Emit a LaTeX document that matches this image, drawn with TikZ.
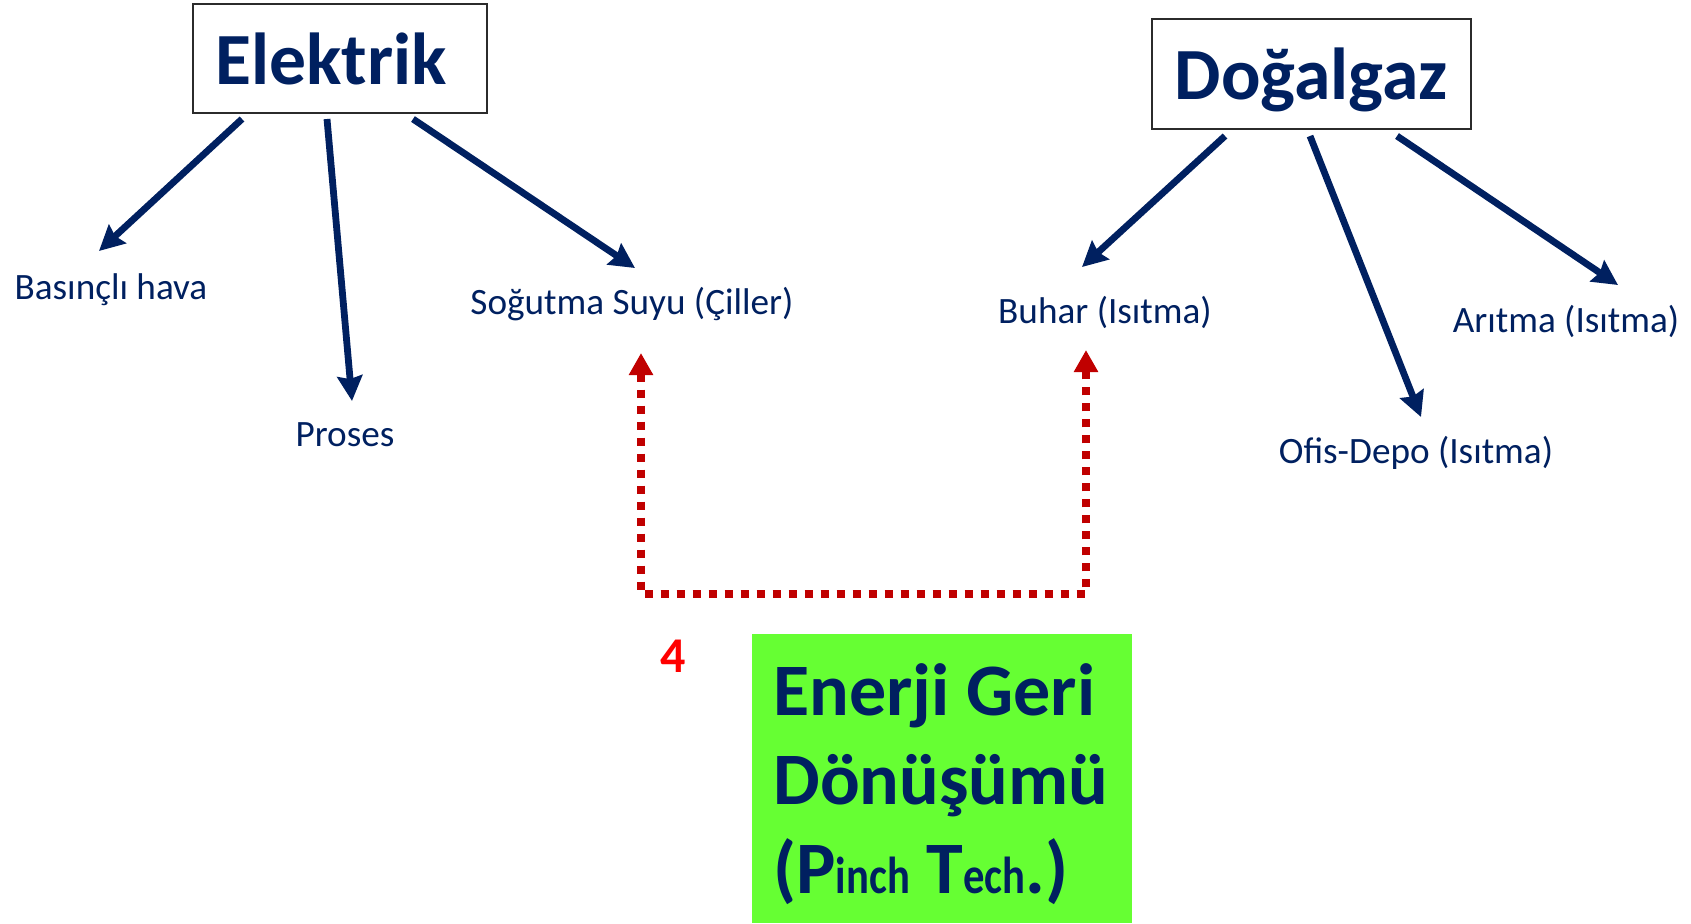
\documentclass[tikz,border=0pt]{standalone}
\usepackage{fontspec}
\usepackage{graphicx}
\setmainfont{Carlito}
\usetikzlibrary{arrows.meta,calc}
\definecolor{navy}{HTML}{002060}
\definecolor{dred}{HTML}{C00000}
\definecolor{lime}{HTML}{66FF33}
\definecolor{framegray}{HTML}{2B2B2B}
% narrow lower-case run used in "(Pinch Tech.)"
\newcommand{\smallrun}[1]{\scalebox{0.82}[1]{\fontsize{26}{26}\selectfont #1}}
\begin{document}
\begin{tikzpicture}[x=0.5pt,y=-0.5pt,
  srcbox/.style={draw=framegray,line width=1.3pt,text=navy,
    font=\fontsize{36.8}{43}\selectfont\bfseries,inner sep=0pt,outer sep=0pt,text depth=0pt},
  lbl/.style={text=navy,font=\fontsize{18.6}{22}\selectfont,inner sep=0pt},
  arr/.style={draw=navy,line width=3.4pt,-{Stealth[length=12.5pt,width=12.5pt,inset=1.5pt]}},
  recov/.style={draw=dred,line width=4pt,dash pattern=on 4pt off 4pt,
    {Triangle[length=11pt,width=11.5pt]}-{Triangle[length=11pt,width=11.5pt]}}]
\useasboundingbox (0,0) rectangle (1691,923);

% energy sources
\node[srcbox,minimum width=147pt,minimum height=54.5pt] (elek) at (340,58.5) {Elektrik\kern9pt};
\node[srcbox,minimum width=159.5pt,minimum height=55pt] (gaz) at (1311.5,74) {Doğalgaz};

% consumers
\node[lbl] (bas) at (111,290) {Basınçlı hava};
\node[lbl] (pro) at (345,435) {Proses};
\node[lbl] (sog) at (632,304) {Soğutma Suyu (Çiller)};
\node[lbl] (buh) at (1105,312) {Buhar (Isıtma)};
\node[lbl] (ari) at (1566,321) {Arıtma (Isıtma)};
\node[lbl] (ofi) at (1416,453) {Ofis-Depo (Isıtma)};

% arrow tips above the consumers
\coordinate (basin) at (99,251);
\coordinate (proin) at (352,401);
\coordinate (sogin) at (635,268);
\coordinate (buhin) at (1082,267);
\coordinate (ofiin) at (1421,417);
\coordinate (ariin) at (1618,285);

\draw[arr] ($(elek.south west)+(49,6)$) -- (basin);
\draw[arr] ($(elek.south west)+(134,6)$) -- (proin);
\draw[arr] ($(elek.south west)+(220,6)$) -- (sogin);
\draw[arr] ($(gaz.south west)+(73,7)$) -- (buhin);
\draw[arr] ($(gaz.south west)+(158,7)$) -- (ofiin);
\draw[arr] ($(gaz.south west)+(245,7)$) -- (ariin);

% heat recovery loop
\coordinate (sogrec) at (641,353);
\coordinate (buhrec) at (1086,350);
\coordinate (loopl) at (641,594);
\coordinate (loopr) at (1086,594);
\draw[recov] (sogrec) -- (loopl) -- (loopr) -- (buhrec);
\node[text=red,font=\fontsize{25}{30}\selectfont\bfseries,inner sep=0pt] (four) at (673,656) {4};

% recovery box
\fill[lime] (752,634) rectangle (1132,923);
\node[anchor=north west,inner sep=0pt,align=left,text=navy,
  font=\fontsize{37}{44.5}\selectfont\bfseries] (egd) at (773,663)
  {Enerji Geri\\Dönüşümü\\(P\smallrun{inch} T\smallrun{ech}.)};
\end{tikzpicture}
\end{document}
